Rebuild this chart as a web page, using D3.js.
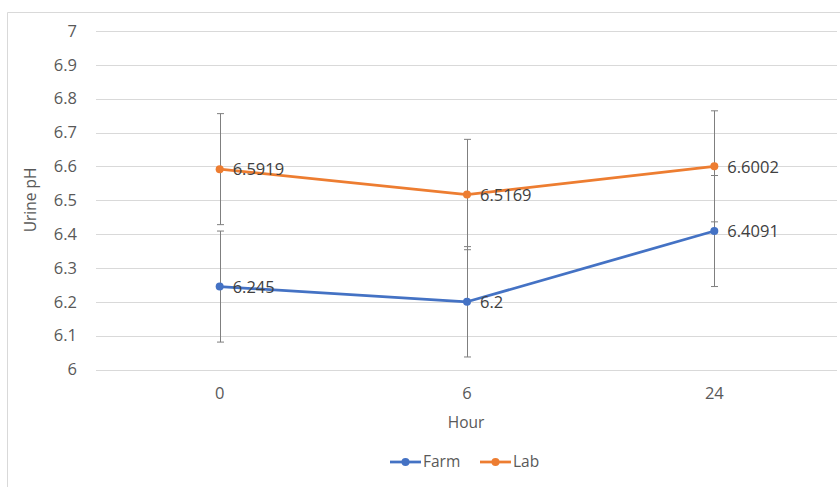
<!DOCTYPE html>
<html>
<meta charset="utf-8">
<style>
body { margin: 0; background: #fff; }
text { font-family: "Open Sans", sans-serif; }
</style>
<body>
<svg id="chart" width="840" height="487"></svg>
</body>
<script src="https://d3js.org/d3.v7.min.js"></script>
<script>
// data
var hours = ["0", "6", "24"];
var farm = [6.245, 6.2, 6.4091];
var lab = [6.5919, 6.5169, 6.6002];
var farmErr = [0.164, 0.163, 0.164];
var labErr = [0.164, 0.163, 0.164];
var yTicks = [6, 6.1, 6.2, 6.3, 6.4, 6.5, 6.6, 6.7, 6.8, 6.9, 7];

var series = [
  { name: "Farm", values: farm, err: farmErr, color: "#4472C4" },
  { name: "Lab", values: lab, err: labErr, color: "#ED7D31" }
];

var numSize = 16.5, wordSize = 15.5;

var svg = d3.select("#chart");

// outer frame (cut at right and bottom like the picture)
svg.append("path")
  .attr("d", "M7.5,487V12.5H840")
  .attr("fill", "none")
  .attr("stroke", "#d9d9d9");

var x = d3.scalePoint().domain(hours).range([96, 838]).padding(0.5);
var y = d3.scaleLinear().domain([6, 7]).range([369.5, 31]);

// gridlines
svg.append("g").selectAll("line")
  .data(yTicks)
  .enter().append("line")
    .attr("x1", 96).attr("x2", 837)
    .attr("y1", function(d) { return Math.round(y(d)) + 0.5; })
    .attr("y2", function(d) { return Math.round(y(d)) + 0.5; })
    .attr("stroke", "#d9d9d9")
    .attr("stroke-width", 1);

// y tick labels
svg.append("g").selectAll("text")
  .data(yTicks)
  .enter().append("text")
    .attr("x", 77)
    .attr("y", function(d) { return y(d); })
    .attr("dy", "0.35em")
    .attr("text-anchor", "end")
    .attr("font-size", numSize)
    .attr("fill", "#595959")
    .text(function(d) { return d3.format("")(d); });

// x tick labels
svg.append("g").selectAll("text")
  .data(hours)
  .enter().append("text")
    .attr("x", function(d) { return x(d); })
    .attr("y", 393)
    .attr("dy", "0.35em")
    .attr("text-anchor", "middle")
    .attr("font-size", numSize)
    .attr("fill", "#595959")
    .text(function(d) { return d; });

// axis titles
svg.append("text")
  .attr("x", 466).attr("y", 423).attr("dy", "0.35em")
  .attr("text-anchor", "middle")
  .attr("font-size", wordSize)
  .attr("fill", "#595959")
  .text("Hour");

svg.append("text")
  .attr("transform", "translate(31,200) rotate(-90)")
  .attr("dy", "0.35em")
  .attr("text-anchor", "middle")
  .attr("font-size", wordSize)
  .attr("fill", "#595959")
  .text("Urine pH");

// error bars
series.forEach(function(s) {
  var g = svg.append("g").attr("stroke", "#7f7f7f").attr("stroke-width", 1);
  hours.forEach(function(h, i) {
    var cx = Math.round(x(h)) + 0.5;
    var top = y(s.values[i] + s.err[i]);
    var bot = y(s.values[i] - s.err[i]);
    g.append("line").attr("x1", cx).attr("x2", cx).attr("y1", top).attr("y2", bot);
    g.append("line").attr("x1", cx - 3.5).attr("x2", cx + 3.5).attr("y1", top).attr("y2", top);
    g.append("line").attr("x1", cx - 3.5).attr("x2", cx + 3.5).attr("y1", bot).attr("y2", bot);
  });
});

var line = d3.line()
  .x(function(d, i) { return x(hours[i]); })
  .y(function(d) { return y(d); });

series.forEach(function(s) {
  svg.append("path")
    .datum(s.values)
    .attr("d", line)
    .attr("fill", "none")
    .attr("stroke", s.color)
    .attr("stroke-width", 2.75)
    .attr("stroke-linejoin", "round");

  svg.append("g").selectAll("circle")
    .data(s.values)
    .enter().append("circle")
      .attr("cx", function(d, i) { return x(hours[i]); })
      .attr("cy", function(d) { return y(d); })
      .attr("r", 4)
      .attr("fill", s.color);

  svg.append("g").selectAll("text")
    .data(s.values)
    .enter().append("text")
      .attr("x", function(d, i) { return x(hours[i]) + 13; })
      .attr("y", function(d) { return y(d); })
      .attr("dy", "0.38em")
      .attr("font-size", numSize)
      .attr("fill", "#404040")
      .text(function(d) { return d; });
});

// legend
var legX = [390, 480];
series.forEach(function(s, i) {
  var lg = svg.append("g").attr("transform", "translate(" + legX[i] + ",462)");
  lg.append("line").attr("x1", 0).attr("x2", 31).attr("y1", 0).attr("y2", 0)
    .attr("stroke", s.color).attr("stroke-width", 2.75);
  lg.append("circle").attr("cx", 15.5).attr("cy", 0).attr("r", 4).attr("fill", s.color);
  lg.append("text").attr("x", 33).attr("y", 0).attr("dy", "0.35em")
    .attr("font-size", wordSize).attr("fill", "#595959").text(s.name);
});
</script>
</html>
